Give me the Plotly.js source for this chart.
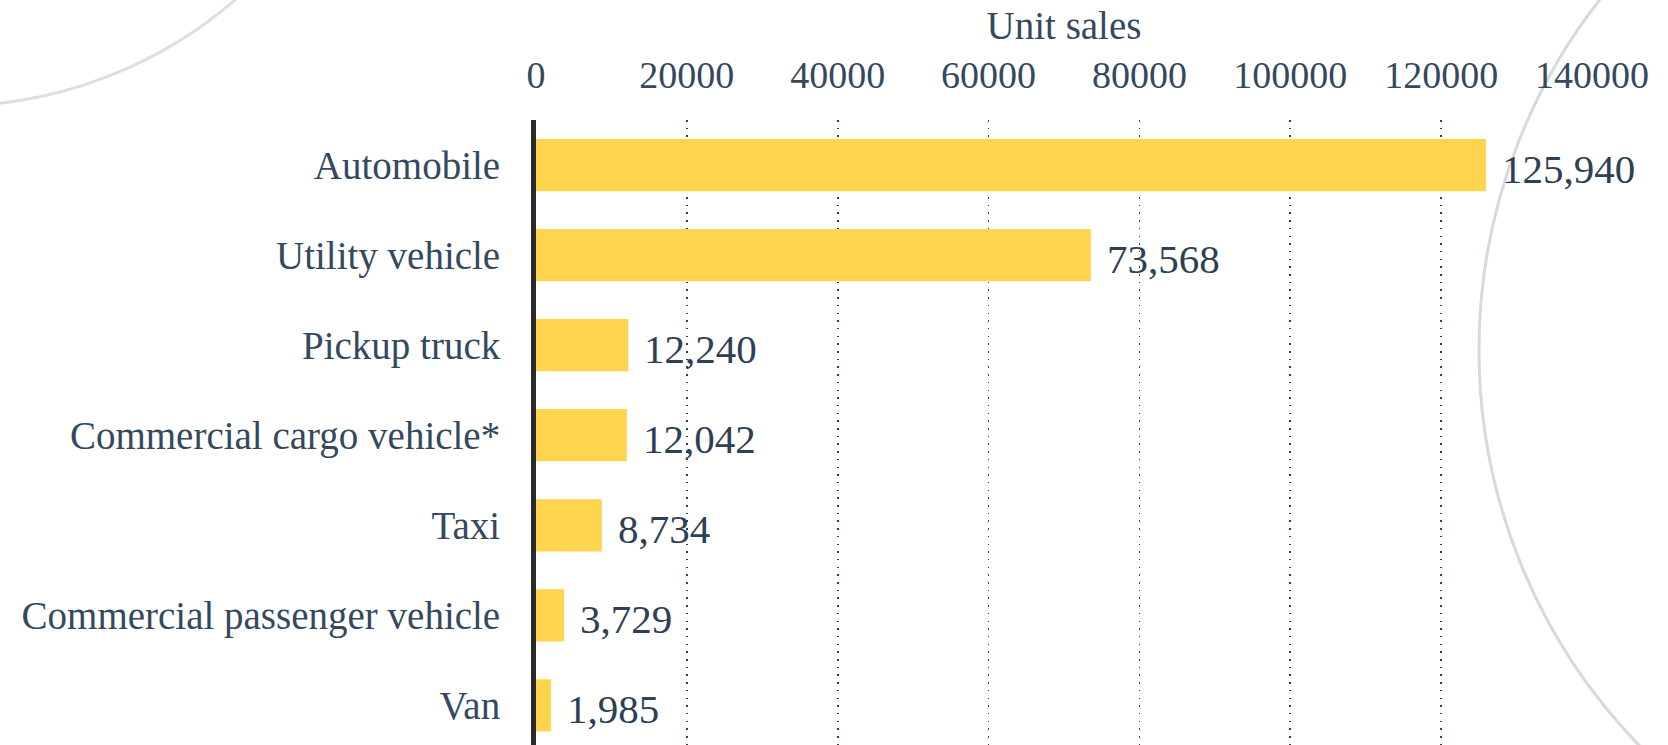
<!DOCTYPE html>
<html>
<head>
<meta charset="utf-8">
<script src="https://cdn.plot.ly/plotly-3.0.1.min.js"></script>
<style>
  body { margin: 0; background: #fff; }
  #myChart { width: 1668px; height: 745px; }
</style>
</head>
<body>
<div id="myChart"></div>
<script>
// vehicle types, top to bottom
var categories = ['Automobile', 'Utility vehicle', 'Pickup truck', 'Commercial cargo vehicle*',
                  'Taxi', 'Commercial passenger vehicle', 'Van'];
var unit_sales = [125940, 73568, 12240, 12042, 8734, 3729, 1985];
var tick_vals = [0, 20000, 40000, 60000, 80000, 100000, 120000, 140000];

var text_color = '#34495e';
var serif = '"Liberation Serif", "Times New Roman", serif';

var W = 1668, H = 745;
var m = {l: 536, r: 76, t: 120, b: 0};

// pixel -> paper helpers, only used for the background arcs
function px(x) { return (x - m.l) / (W - m.l - m.r); }
function py(y) { return 1 - (y - m.t) / (H - m.t - m.b); }

var trace1 = {
  type: 'bar',
  orientation: 'h',
  x: unit_sales,
  y: categories,
  marker: {color: '#FFD54F'},
  hoverinfo: 'x+y'
};

var annotations = [];
for (var i = 0; i < categories.length; i++) {
  annotations.push({
    x: unit_sales[i],
    y: categories[i],
    xref: 'x', yref: 'y',
    text: unit_sales[i].toLocaleString('en-US'),
    showarrow: false,
    xanchor: 'left',
    xshift: 14,
    yshift: -4,
    font: {family: serif, size: 41, color: '#2e4053'}
  });
}

// decorative arcs in the background
var shapes = [
  {type: 'circle', xref: 'paper', yref: 'paper', layer: 'below',
   x0: px(-50 - 436), x1: px(-50 + 436), y0: py(-330 + 436), y1: py(-330 - 436),
   line: {color: '#dcdfe2', width: 3}},
  {type: 'circle', xref: 'paper', yref: 'paper', layer: 'below',
   x0: px(2047 - 568), x1: px(2047 + 568), y0: py(350 + 568), y1: py(350 - 568),
   line: {color: '#d6dadd', width: 3}}
];

var layout = {
  width: W,
  height: H,
  margin: m,
  paper_bgcolor: '#ffffff',
  plot_bgcolor: 'rgba(0,0,0,0)',
  showlegend: false,
  bargap: 0.42,
  font: {family: serif, color: text_color},
  xaxis: {
    side: 'top',
    range: [0, 140000],
    tickvals: tick_vals,
    tickformat: 'd',
    ticks: 'outside',
    ticklen: 16,
    tickcolor: 'rgba(0,0,0,0)',
    tickfont: {family: serif, size: 38, color: text_color},
    showgrid: true,
    gridcolor: '#2f3d4c',
    griddash: '1.5px,6.2px',
    gridwidth: 1.6,
    zeroline: false,
    showline: false,
    title: {text: 'Unit sales', font: {family: serif, size: 39, color: text_color}, standoff: 2}
  },
  yaxis: {
    type: 'category',
    autorange: false,
    range: [6.44, -0.5],
    showgrid: false,
    zeroline: false,
    showline: true,
    linecolor: '#2b2b2b',
    linewidth: 5,
    ticks: 'outside',
    ticklen: 23,
    tickcolor: 'rgba(0,0,0,0)',
    tickfont: {family: serif, size: 39, color: text_color}
  },
  annotations: annotations,
  shapes: shapes
};

Plotly.newPlot('myChart', [trace1], layout, {displayModeBar: false, staticPlot: true});
</script>
</body>
</html>
